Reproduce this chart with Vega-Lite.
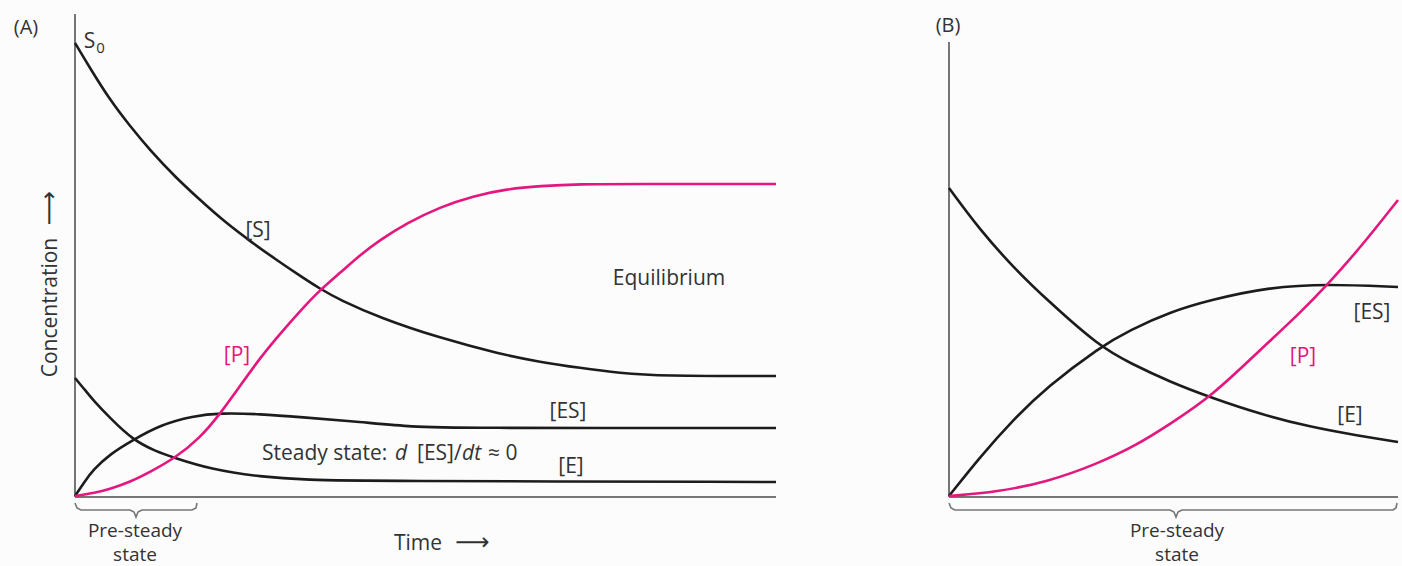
{
  "$schema": "https://vega.github.io/schema/vega-lite/v6.json",
  "autosize": {"type": "none"},
  "width": 1323,
  "height": 483,
  "padding": {"left": 75, "top": 14, "right": 4, "bottom": 69},
  "background": "#fcfcfc",
  "config": {"view": {"stroke": null}, "font": "Open Sans"},
  "datasets": {
    "axesA": [
      {"time": 0, "conc": 0, "time2": 0, "conc2": 100},
      {"time": 0, "conc": 0, "time2": 100, "conc2": 0}
    ],
    "axesB": [
      {"time": 0, "conc": 0, "time2": 0, "conc2": 94.2},
      {"time": 0, "conc": 0, "time2": 100, "conc2": 0}
    ],
    "braceA": [
      {"time": 0, "conc": -1.24}, {"time": 0.285, "conc": -2.28}, {"time": 0.856, "conc": -2.69},
      {"time": 7.846, "conc": -2.69}, {"time": 8.417, "conc": -3.11}, {"time": 8.702, "conc": -4.14},
      {"time": 8.987, "conc": -3.11}, {"time": 9.558, "conc": -2.69}, {"time": 16.69, "conc": -2.69},
      {"time": 17.26, "conc": -2.28}, {"time": 17.4, "conc": -1.24}
    ],
    "braceB": [
      {"time": 0, "conc": -1.24}, {"time": 0.445, "conc": -2.28}, {"time": 1.336, "conc": -2.69},
      {"time": 49.22, "conc": -2.69}, {"time": 50.11, "conc": -3.11}, {"time": 50.56, "conc": -4.14},
      {"time": 51.0, "conc": -3.11}, {"time": 51.89, "conc": -2.69}, {"time": 98.89, "conc": -2.69},
      {"time": 99.55, "conc": -2.28}, {"time": 99.78, "conc": -1.24}
    ],
    "curvesA": [
      {"series": "S", "time": 0, "conc": 94.0}, {"series": "S", "time": 2.14, "conc": 88.8},
      {"series": "S", "time": 4.99, "conc": 82.2}, {"series": "S", "time": 7.85, "conc": 76.8},
      {"series": "S", "time": 10.7, "conc": 71.8}, {"series": "S", "time": 14.27, "conc": 66.3},
      {"series": "S", "time": 17.83, "conc": 61.5}, {"series": "S", "time": 21.4, "conc": 56.9},
      {"series": "S", "time": 24.96, "conc": 53.0}, {"series": "S", "time": 28.53, "conc": 49.3},
      {"series": "S", "time": 32.1, "conc": 45.8}, {"series": "S", "time": 34.95, "conc": 43.1},
      {"series": "S", "time": 37.8, "conc": 40.8}, {"series": "S", "time": 43.51, "conc": 37.1},
      {"series": "S", "time": 52.07, "conc": 32.9}, {"series": "S", "time": 60.63, "conc": 29.6},
      {"series": "S", "time": 66.33, "conc": 27.95}, {"series": "S", "time": 72.04, "conc": 26.71},
      {"series": "S", "time": 77.75, "conc": 25.67}, {"series": "S", "time": 83.45, "conc": 25.05},
      {"series": "S", "time": 100, "conc": 25.05},
      {"series": "P", "time": 0, "conc": 0.2}, {"series": "P", "time": 2.85, "conc": 0.83},
      {"series": "P", "time": 4.99, "conc": 1.66}, {"series": "P", "time": 7.85, "conc": 3.11},
      {"series": "P", "time": 10.7, "conc": 5.18}, {"series": "P", "time": 14.27, "conc": 8.07},
      {"series": "P", "time": 17.83, "conc": 12.22}, {"series": "P", "time": 20.68, "conc": 17.18},
      {"series": "P", "time": 23.54, "conc": 22.98}, {"series": "P", "time": 26.39, "conc": 28.78},
      {"series": "P", "time": 29.24, "conc": 33.75}, {"series": "P", "time": 32.1, "conc": 38.51},
      {"series": "P", "time": 34.95, "conc": 42.86}, {"series": "P", "time": 37.8, "conc": 46.38},
      {"series": "P", "time": 40.66, "conc": 50.1}, {"series": "P", "time": 43.51, "conc": 53.21},
      {"series": "P", "time": 47.36, "conc": 56.73}, {"series": "P", "time": 52.07, "conc": 60.04},
      {"series": "P", "time": 56.78, "conc": 62.32}, {"series": "P", "time": 61.63, "conc": 63.77},
      {"series": "P", "time": 66.33, "conc": 64.39}, {"series": "P", "time": 72.04, "conc": 64.8},
      {"series": "P", "time": 79.17, "conc": 64.8}, {"series": "P", "time": 100, "conc": 64.8},
      {"series": "ES", "time": 0, "conc": 0.2}, {"series": "ES", "time": 1.43, "conc": 3.31},
      {"series": "ES", "time": 2.57, "conc": 5.59}, {"series": "ES", "time": 4.99, "conc": 8.9},
      {"series": "ES", "time": 8.27, "conc": 11.8}, {"series": "ES", "time": 12.13, "conc": 14.91},
      {"series": "ES", "time": 16.83, "conc": 16.77}, {"series": "ES", "time": 20.68, "conc": 17.39},
      {"series": "ES", "time": 26.39, "conc": 17.18}, {"series": "ES", "time": 32.1, "conc": 16.56},
      {"series": "ES", "time": 40.66, "conc": 15.53}, {"series": "ES", "time": 48.5, "conc": 14.49},
      {"series": "ES", "time": 53.5, "conc": 14.29}, {"series": "ES", "time": 100, "conc": 14.29},
      {"series": "E", "time": 0, "conc": 24.64}, {"series": "E", "time": 1.43, "conc": 22.15},
      {"series": "E", "time": 2.57, "conc": 20.08}, {"series": "E", "time": 4.99, "conc": 16.36},
      {"series": "E", "time": 8.27, "conc": 11.8}, {"series": "E", "time": 11.41, "conc": 9.52},
      {"series": "E", "time": 14.27, "conc": 8.07}, {"series": "E", "time": 19.26, "conc": 5.8},
      {"series": "E", "time": 26.39, "conc": 4.14}, {"series": "E", "time": 33.52, "conc": 3.52},
      {"series": "E", "time": 40.66, "conc": 3.31}, {"series": "E", "time": 100, "conc": 3.11}
    ],
    "curvesB": [
      {"series": "E", "time": 0, "conc": 63.98}, {"series": "E", "time": 6.9, "conc": 55.28},
      {"series": "E", "time": 14.25, "conc": 47.62}, {"series": "E", "time": 21.83, "conc": 40.79},
      {"series": "E", "time": 33.63, "conc": 31.06}, {"series": "E", "time": 40.31, "conc": 27.74},
      {"series": "E", "time": 49.22, "conc": 23.81}, {"series": "E", "time": 58.57, "conc": 20.5},
      {"series": "E", "time": 69.27, "conc": 17.18}, {"series": "E", "time": 80.4, "conc": 14.49},
      {"series": "E", "time": 91.54, "conc": 12.63}, {"series": "E", "time": 100, "conc": 11.39},
      {"series": "ES", "time": 0, "conc": 0.2}, {"series": "ES", "time": 6.9, "conc": 8.28},
      {"series": "ES", "time": 14.25, "conc": 15.94}, {"series": "ES", "time": 21.83, "conc": 22.77},
      {"series": "ES", "time": 33.63, "conc": 31.06}, {"series": "ES", "time": 40.31, "conc": 34.58},
      {"series": "ES", "time": 49.22, "conc": 38.3}, {"series": "ES", "time": 58.13, "conc": 40.79},
      {"series": "ES", "time": 71.49, "conc": 43.48}, {"series": "ES", "time": 84.19, "conc": 44.1},
      {"series": "ES", "time": 100, "conc": 43.48},
      {"series": "P", "time": 0, "conc": 0.2}, {"series": "P", "time": 10.69, "conc": 1.04},
      {"series": "P", "time": 21.83, "conc": 3.11}, {"series": "P", "time": 32.96, "conc": 6.83},
      {"series": "P", "time": 41.87, "conc": 10.77}, {"series": "P", "time": 49.22, "conc": 15.11},
      {"series": "P", "time": 58.57, "conc": 20.91}, {"series": "P", "time": 69.27, "conc": 30.43},
      {"series": "P", "time": 78.17, "conc": 38.1}, {"series": "P", "time": 84.41, "conc": 44.1},
      {"series": "P", "time": 91.54, "conc": 51.55}, {"series": "P", "time": 100, "conc": 61.49}
    ],
    "textA": [
      {"label": "(A)", "time": -6.99, "conc": 95.86, "kind": "tag"},
      {"label": "S", "time": 2.07, "conc": 92.96, "kind": "c"},
      {"label": "0", "time": 3.64, "conc": 91.93, "kind": "sub"},
      {"label": "[S]", "time": 26.11, "conc": 53.83, "kind": "c"},
      {"label": "[P]", "time": 23.11, "conc": 28.01, "kind": "pink"},
      {"label": "Equilibrium", "time": 84.74, "conc": 43.89, "kind": "c"},
      {"label": "[ES]", "time": 70.33, "conc": 16.36, "kind": "c"},
      {"label": "[E]", "time": 70.76, "conc": 4.97, "kind": "c"},
      {"label": "Steady state:", "time": 26.68, "conc": 7.66, "kind": "l"},
      {"label": "d", "time": 45.64, "conc": 7.66, "kind": "li"},
      {"label": "[ES]/", "time": 48.79, "conc": 7.66, "kind": "l"},
      {"label": "dt", "time": 55.21, "conc": 7.66, "kind": "li"},
      {"label": "≈ 0", "time": 58.92, "conc": 7.66, "kind": "l"},
      {"label": ["Pre-steady", "state"], "time": 8.56, "conc": -8.28, "kind": "foot"},
      {"label": "Time", "time": 48.93, "conc": -10.97, "kind": "c"},
      {"label": "⟶", "time": 56.7, "conc": -10.97, "kind": "arrow"},
      {"label": "Concentration", "time": -2.57, "conc": 39.23, "kind": "rot"},
      {"label": "⟶", "time": -2.57, "conc": 59.83, "kind": "rotarrow"}
    ],
    "textB": [
      {"label": "(B)", "time": -0.22, "conc": 96.27, "kind": "tag"},
      {"label": "[ES]", "time": 94.21, "conc": 36.85, "kind": "c"},
      {"label": "[P]", "time": 78.84, "conc": 27.74, "kind": "pink"},
      {"label": "[E]", "time": 89.31, "conc": 15.59, "kind": "c"},
      {"label": ["Pre-steady", "state"], "time": 50.78, "conc": -8.28, "kind": "foot"}
    ]
  },
  "resolve": {"scale": {"x": "independent"}},
  "layer": [
    {
      "encoding": {
        "x": {"field": "time", "type": "quantitative", "scale": {"domain": [0, 100], "range": [0, 701], "nice": false}, "axis": null},
        "y": {"field": "conc", "type": "quantitative", "scale": {"domain": [0, 100], "nice": false}, "axis": null}
      },
      "layer": [
        {"data": {"name": "axesA"}, "mark": {"type": "rule", "color": "#767676", "strokeWidth": 2},
         "encoding": {"x2": {"field": "time2"}, "y2": {"field": "conc2"}}},
        {"data": {"name": "braceA"}, "mark": {"type": "line", "color": "#767676", "strokeWidth": 1.6}, "encoding": {}},
        {"data": {"name": "curvesA"}, "transform": [{"filter": "datum.series !== 'P'"}],
         "mark": {"type": "line", "color": "#1c1c1c", "strokeWidth": 2.6, "interpolate": "basis"},
         "encoding": {"detail": {"field": "series", "type": "nominal"}}},
        {"data": {"name": "curvesA"}, "transform": [{"filter": "datum.series === 'P'"}],
         "mark": {"type": "line", "color": "#e3177d", "strokeWidth": 2.6, "interpolate": "basis"}, "encoding": {}},
        {"data": {"name": "textA"}, "transform": [{"filter": "datum.kind === 'c'"}],
         "mark": {"type": "text", "fontSize": 21, "color": "#333333", "align": "center", "baseline": "alphabetic"},
         "encoding": {"text": {"field": "label"}}},
        {"data": {"name": "textA"}, "transform": [{"filter": "datum.kind === 'foot'"}],
         "mark": {"type": "text", "fontSize": 19, "lineHeight": 24, "color": "#333333", "align": "center", "baseline": "alphabetic"},
         "encoding": {"text": {"field": "label"}}},
        {"data": {"name": "textA"}, "transform": [{"filter": "datum.kind === 'tag'"}],
         "mark": {"type": "text", "fontSize": 20, "color": "#333333", "align": "center", "baseline": "alphabetic"},
         "encoding": {"text": {"field": "label"}}},
        {"data": {"name": "textA"}, "transform": [{"filter": "datum.kind === 'sub'"}],
         "mark": {"type": "text", "fontSize": 15, "color": "#333333", "align": "center", "baseline": "alphabetic"},
         "encoding": {"text": {"field": "label"}}},
        {"data": {"name": "textA"}, "transform": [{"filter": "datum.kind === 'l'"}],
         "mark": {"type": "text", "fontSize": 21, "color": "#333333", "align": "left", "baseline": "alphabetic"},
         "encoding": {"text": {"field": "label"}}},
        {"data": {"name": "textA"}, "transform": [{"filter": "datum.kind === 'li'"}],
         "mark": {"type": "text", "fontSize": 21, "fontStyle": "italic", "color": "#333333", "align": "left", "baseline": "alphabetic"},
         "encoding": {"text": {"field": "label"}}},
        {"data": {"name": "textA"}, "transform": [{"filter": "datum.kind === 'pink'"}],
         "mark": {"type": "text", "fontSize": 21, "color": "#e3177d", "align": "center", "baseline": "alphabetic"},
         "encoding": {"text": {"field": "label"}}},
        {"data": {"name": "textA"}, "transform": [{"filter": "datum.kind === 'arrow'"}],
         "mark": {"type": "text", "font": "DejaVu Sans", "fontSize": 24, "color": "#333333", "align": "center", "baseline": "alphabetic"},
         "encoding": {"text": {"field": "label"}}},
        {"data": {"name": "textA"}, "transform": [{"filter": "datum.kind === 'rot'"}],
         "mark": {"type": "text", "fontSize": 21, "angle": 270, "color": "#333333", "align": "center", "baseline": "alphabetic"},
         "encoding": {"text": {"field": "label"}}},
        {"data": {"name": "textA"}, "transform": [{"filter": "datum.kind === 'rotarrow'"}],
         "mark": {"type": "text", "font": "DejaVu Sans", "fontSize": 24, "angle": 270, "color": "#333333", "align": "center", "baseline": "alphabetic"},
         "encoding": {"text": {"field": "label"}}}
      ]
    },
    {
      "encoding": {
        "x": {"field": "time", "type": "quantitative", "scale": {"domain": [0, 100], "range": [874, 1323], "nice": false}, "axis": null},
        "y": {"field": "conc", "type": "quantitative", "scale": {"domain": [0, 100], "nice": false}, "axis": null}
      },
      "layer": [
        {"data": {"name": "axesB"}, "mark": {"type": "rule", "color": "#767676", "strokeWidth": 2},
         "encoding": {"x2": {"field": "time2"}, "y2": {"field": "conc2"}}},
        {"data": {"name": "braceB"}, "mark": {"type": "line", "color": "#767676", "strokeWidth": 1.6}, "encoding": {}},
        {"data": {"name": "curvesB"}, "transform": [{"filter": "datum.series !== 'P'"}],
         "mark": {"type": "line", "color": "#1c1c1c", "strokeWidth": 2.6, "interpolate": "basis"},
         "encoding": {"detail": {"field": "series", "type": "nominal"}}},
        {"data": {"name": "curvesB"}, "transform": [{"filter": "datum.series === 'P'"}],
         "mark": {"type": "line", "color": "#e3177d", "strokeWidth": 2.6, "interpolate": "basis"}, "encoding": {}},
        {"data": {"name": "textB"}, "transform": [{"filter": "datum.kind === 'c'"}],
         "mark": {"type": "text", "fontSize": 21, "color": "#333333", "align": "center", "baseline": "alphabetic"},
         "encoding": {"text": {"field": "label"}}},
        {"data": {"name": "textB"}, "transform": [{"filter": "datum.kind === 'foot'"}],
         "mark": {"type": "text", "fontSize": 19, "lineHeight": 24, "color": "#333333", "align": "center", "baseline": "alphabetic"},
         "encoding": {"text": {"field": "label"}}},
        {"data": {"name": "textB"}, "transform": [{"filter": "datum.kind === 'tag'"}],
         "mark": {"type": "text", "fontSize": 20, "color": "#333333", "align": "center", "baseline": "alphabetic"},
         "encoding": {"text": {"field": "label"}}},
        {"data": {"name": "textB"}, "transform": [{"filter": "datum.kind === 'pink'"}],
         "mark": {"type": "text", "fontSize": 21, "color": "#e3177d", "align": "center", "baseline": "alphabetic"},
         "encoding": {"text": {"field": "label"}}}
      ]
    }
  ]
}
